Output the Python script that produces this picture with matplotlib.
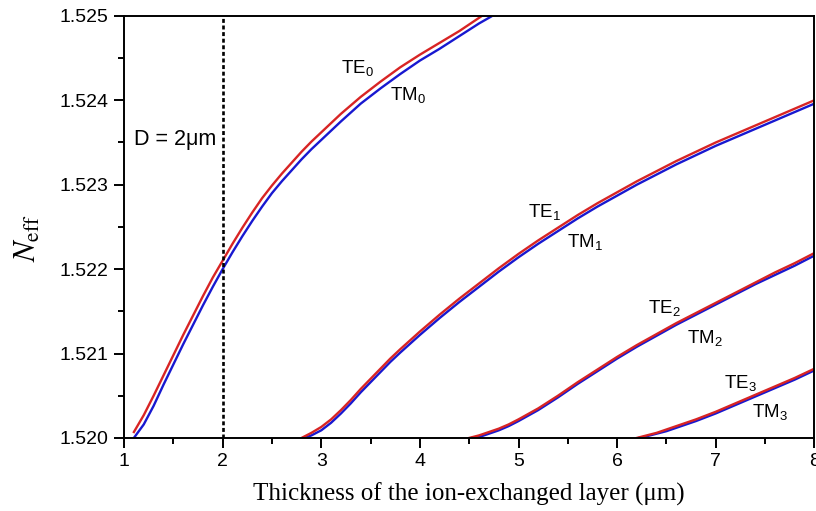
import matplotlib

matplotlib.use("Agg")
import matplotlib.pyplot as plt
from matplotlib.ticker import FormatStrFormatter, MultipleLocator

plt.rcParams["font.family"] = ["Liberation Sans", "DejaVu Sans"]
plt.rcParams["mathtext.fontset"] = "custom"
plt.rcParams["mathtext.rm"] = "Liberation Sans"
plt.rcParams["mathtext.it"] = "Liberation Sans:italic"

# ── Data ───────────────────────────────────────────────────────────────────
te0_x = [1.1, 1.2, 1.3, 1.4, 1.5, 1.6, 1.7, 1.8, 1.9, 2.0, 2.1, 2.2, 2.3,
         2.4, 2.5, 2.6, 2.7, 2.8, 2.9, 3.0, 3.2, 3.4, 3.6, 3.8, 4.0, 4.2,
         4.4, 4.63]
te0_y = [1.52007, 1.52027, 1.52050, 1.52074, 1.52098, 1.52122, 1.52145,
         1.52168, 1.52190, 1.52210, 1.52230, 1.52249, 1.52267, 1.52284,
         1.52299, 1.52313, 1.52326, 1.52339, 1.52351, 1.52362, 1.52384,
         1.52404, 1.52422, 1.52439, 1.52454, 1.52468, 1.52482, 1.52500]
tm0_x = [1.1, 1.2, 1.3, 1.4, 1.5, 1.6, 1.7, 1.8, 1.9, 2.0, 2.1, 2.2, 2.3,
         2.4, 2.5, 2.6, 2.7, 2.8, 2.9, 3.0, 3.2, 3.4, 3.6, 3.8, 4.0, 4.2,
         4.4, 4.6, 4.72]
tm0_y = [1.52000, 1.52016, 1.52038, 1.52063, 1.52087, 1.52111, 1.52134,
         1.52157, 1.52179, 1.52200, 1.52220, 1.52239, 1.52257, 1.52274,
         1.52290, 1.52304, 1.52317, 1.52330, 1.52342, 1.52353, 1.52375,
         1.52396, 1.52414, 1.52431, 1.52447, 1.52461, 1.52476, 1.52491,
         1.52499]

te1_x = [2.8, 2.9, 3.0, 3.1, 3.2, 3.3, 3.4, 3.5, 3.6, 3.7, 3.8, 4.0, 4.2,
         4.4, 4.6, 4.8, 5.0, 5.2, 5.4, 5.6, 5.8, 6.0, 6.2, 6.4, 6.6, 6.8,
         7.0, 7.2, 7.4, 7.6, 7.8, 8.0]
te1_y = [1.52000, 1.52006, 1.52013, 1.52022, 1.52033, 1.52045, 1.52058,
         1.52070, 1.52082, 1.52094, 1.52105, 1.52126, 1.52146, 1.52165,
         1.52183, 1.52201, 1.52218, 1.52234, 1.52249, 1.52264, 1.52278,
         1.52291, 1.52304, 1.52316, 1.52328, 1.52339, 1.52350, 1.52360,
         1.52370, 1.52380, 1.52390, 1.52400]
tm1_x = [2.83, 2.9, 3.0, 3.1, 3.2, 3.3, 3.4, 3.5, 3.6, 3.7, 3.8, 4.0, 4.2,
         4.4, 4.6, 4.8, 5.0, 5.2, 5.4, 5.6, 5.8, 6.0, 6.2, 6.4, 6.6, 6.8,
         7.0, 7.2, 7.4, 7.6, 7.8, 8.0]
tm1_y = [1.52000, 1.52003, 1.52009, 1.52018, 1.52029, 1.52041, 1.52054,
         1.52066, 1.52078, 1.52090, 1.52101, 1.52122, 1.52142, 1.52161,
         1.52179, 1.52197, 1.52214, 1.52230, 1.52245, 1.52260, 1.52274,
         1.52287, 1.52300, 1.52312, 1.52324, 1.52335, 1.52346, 1.52356,
         1.52366, 1.52376, 1.52386, 1.52396]

te2_x = [4.5, 4.6, 4.7, 4.8, 4.9, 5.0, 5.2, 5.4, 5.6, 5.8, 6.0, 6.2, 6.4,
         6.6, 6.8, 7.0, 7.2, 7.4, 7.6, 7.8, 8.0]
te2_y = [1.52000, 1.52003, 1.52007, 1.52011, 1.52016, 1.52022, 1.52035,
         1.52050, 1.52066, 1.52081, 1.52096, 1.52110, 1.52123, 1.52136,
         1.52148, 1.52160, 1.52172, 1.52184, 1.52196, 1.52207, 1.52219]
tm2_x = [4.53, 4.6, 4.7, 4.8, 4.9, 5.0, 5.2, 5.4, 5.6, 5.8, 6.0, 6.2, 6.4,
         6.6, 6.8, 7.0, 7.2, 7.4, 7.6, 7.8, 8.0]
tm2_y = [1.52000, 1.52001, 1.52005, 1.52009, 1.52014, 1.52020, 1.52033,
         1.52048, 1.52064, 1.52079, 1.52094, 1.52108, 1.52121, 1.52134,
         1.52146, 1.52158, 1.52170, 1.52182, 1.52193, 1.52204, 1.52216]

te3_x = [6.2, 6.3, 6.4, 6.5, 6.6, 6.7, 6.8, 7.0, 7.2, 7.4, 7.6, 7.8, 8.0]
te3_y = [1.52000, 1.52003, 1.52006, 1.52010, 1.52014, 1.52018, 1.52022,
         1.52031, 1.52041, 1.52051, 1.52061, 1.52071, 1.52082]
tm3_x = [6.22, 6.3, 6.4, 6.5, 6.6, 6.7, 6.8, 7.0, 7.2, 7.4, 7.6, 7.8, 8.0]
tm3_y = [1.52000, 1.52002, 1.52005, 1.52008, 1.52012, 1.52016, 1.52020,
         1.52029, 1.52039, 1.52049, 1.52059, 1.52069, 1.52080]

te_labels = ["TE$_0$", "TE$_1$", "TE$_2$", "TE$_3$"]
tm_labels = ["TM$_0$", "TM$_1$", "TM$_2$", "TM$_3$"]
te_label_pos = [(3.20, 1.524325), (5.10, 1.52262), (6.31, 1.52148), (7.08, 1.52059)]
tm_label_pos = [(3.70, 1.52400), (5.49, 1.52226), (6.71, 1.52113), (7.37, 1.52025)]

d_line = 2.0

# ── Plot ───────────────────────────────────────────────────────────────────
fig = plt.figure(figsize=(8.16, 5.11), dpi=100)
ax = fig.add_axes([0.152, 0.143, 0.846, 0.826])

red, blue = "#d82424", "#1818d0"
curves = [(te0_x, te0_y, tm0_x, tm0_y), (te1_x, te1_y, tm1_x, tm1_y),
          (te2_x, te2_y, tm2_x, tm2_y), (te3_x, te3_y, tm3_x, tm3_y)]
for tx, ty, mx, my in curves:
    ax.plot(mx, my, color=blue, linewidth=1.7, solid_joinstyle="round")
    ax.plot(tx, ty, color=red, linewidth=1.7, solid_joinstyle="round")

ax.axvline(d_line, color="black", linestyle=(0, (1.5, 1.0)), linewidth=1.9)
ax.text(1.10, 1.52347, "D = 2\u03bcm", fontsize=15.5, ha="left", va="baseline")

for te, tm, tp, mp in zip(te_labels, tm_labels, te_label_pos, tm_label_pos):
    ax.text(*tp, te, fontsize=13.5, ha="left", va="baseline")
    ax.text(*mp, tm, fontsize=13.5, ha="left", va="baseline")

ax.set_xlim(1, 8)
ax.set_ylim(1.520, 1.525)
ax.xaxis.set_major_locator(MultipleLocator(1))
ax.xaxis.set_minor_locator(MultipleLocator(0.5))
ax.yaxis.set_major_locator(MultipleLocator(0.001))
ax.yaxis.set_minor_locator(MultipleLocator(0.0005))
ax.yaxis.set_major_formatter(FormatStrFormatter("%.3f"))
ax.tick_params(which="major", direction="out", length=7, width=1.4,
               labelsize=14, pad=4)
ax.tick_params(which="minor", direction="out", length=4, width=1.4)
for s in ax.spines.values():
    s.set_linewidth(1.4)

ax.set_xlabel("Thickness of the ion-exchanged layer (\u03bcm)",
              fontsize=18, family="Liberation Serif", labelpad=9)
fig.text(0.034, 0.534, r"$N_{\rm eff}$", fontsize=22, rotation=90,
         ha="center", va="center", math_fontfamily="stix")

fig.savefig("out.png", dpi=100)
